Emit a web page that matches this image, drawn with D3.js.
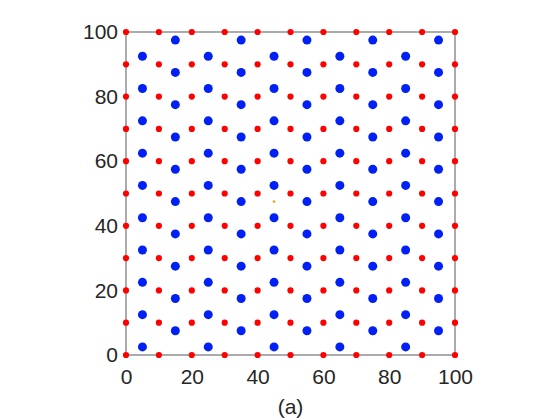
<!DOCTYPE html>
<html>
<head>
<meta charset="utf-8">
<script src="https://cdn.jsdelivr.net/npm/d3@7"></script>
<style>
  body { margin: 0; background: #fff; }
  svg text { font-family: "Liberation Sans", Arial, Helvetica, sans-serif; fill: #262626; }
</style>
</head>
<body>
<svg id="chart" width="560" height="420"></svg>
<script>
// red lattice: every grid crossing
var redX = [0, 10, 20, 30, 40, 50, 60, 70, 80, 90, 100];
var redY = [0, 10, 20, 30, 40, 50, 60, 70, 80, 90, 100];

// blue points, columns alternate between two row sets
var blueX = [5, 15, 25, 35, 45, 55, 65, 75, 85, 95];
var blueRowsLow  = [2.5, 12.5, 22.5, 32.5, 42.5, 52.5, 62.5, 72.5, 82.5, 92.5];
var blueRowsHigh = [7.5, 17.5, 27.5, 37.5, 47.5, 57.5, 67.5, 77.5, 87.5, 97.5];
var blueRowSet = ["low", "high", "low", "high", "low", "high", "low", "high", "low", "high"];

// single small marker near the middle
var centerPoint = [{x: 45, y: 47.5}];

var xTicks = [0, 20, 40, 60, 80, 100];
var yTicks = [0, 20, 40, 60, 80, 100];
var caption = "(a)";

var svg = d3.select("#chart");
var margin = {top: 32, right: 105, bottom: 65, left: 126},
    width  = 560 - margin.left - margin.right,
    height = 420 - margin.top - margin.bottom;

var x = d3.scaleLinear().domain([0, 100]).range([0, width]);
var y = d3.scaleLinear().domain([0, 100]).range([height, 0]);

var g = svg.append("g")
  .attr("transform", "translate(" + margin.left + "," + margin.top + ")");

// axes box
g.append("rect")
  .attr("x", 0).attr("y", 0)
  .attr("width", width).attr("height", height)
  .attr("fill", "none")
  .attr("stroke", "#ababab")
  .attr("stroke-width", 2);

var xAxis = d3.axisBottom(x).tickValues(xTicks).tickSize(0).tickPadding(14);
var yAxis = d3.axisLeft(y).tickValues(yTicks).tickSize(0).tickPadding(8);

var gx = g.append("g").attr("transform", "translate(0," + height + ")").call(xAxis);
var gy = g.append("g").call(yAxis);
[gx, gy].forEach(function(a) {
  a.select(".domain").remove();
  a.selectAll("text").style("font-size", "21px").attr("fill", "#262626");
});

var redPts = [];
redX.forEach(function(rx) { redY.forEach(function(ry) { redPts.push({x: rx, y: ry}); }); });

var bluePts = [];
blueX.forEach(function(bx, i) {
  var rows = blueRowSet[i] == "low" ? blueRowsLow : blueRowsHigh;
  rows.forEach(function(by) { bluePts.push({x: bx, y: by}); });
});

g.selectAll(".blue").data(bluePts).enter().append("circle")
  .attr("class", "blue")
  .attr("cx", function(d) { return x(d.x); })
  .attr("cy", function(d) { return y(d.y); })
  .attr("r", 4.5)
  .attr("fill", "#0020f5");

g.selectAll(".red").data(redPts).enter().append("circle")
  .attr("class", "red")
  .attr("cx", function(d) { return x(d.x); })
  .attr("cy", function(d) { return y(d.y); })
  .attr("r", 3.1)
  .attr("fill", "#ff0000");

g.selectAll(".mid").data(centerPoint).enter().append("circle")
  .attr("class", "mid")
  .attr("cx", function(d) { return x(d.x); })
  .attr("cy", function(d) { return y(d.y); })
  .attr("r", 1.4)
  .attr("fill", "#f0a818");

svg.append("text")
  .attr("x", margin.left + width / 2)
  .attr("y", 414)
  .attr("text-anchor", "middle")
  .style("font-size", "21px")
  .text(caption);
</script>
</body>
</html>
